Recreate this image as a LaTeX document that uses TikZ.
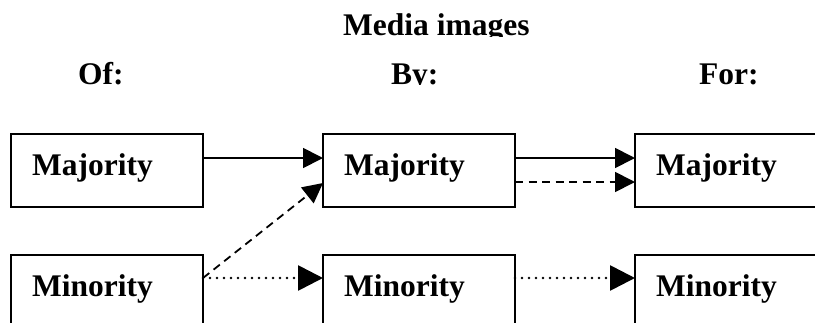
\documentclass[tikz,border=0pt]{standalone}
\usepackage{fontspec}
\setmainfont{Liberation Serif}
\usetikzlibrary{arrows.meta}
\begin{document}
\begin{tikzpicture}[x=1pt,y=-1pt,
  txt/.style={font=\fontsize{31.5}{36}\selectfont\bfseries, inner sep=0pt, anchor=base west},
  groupbox/.style={draw, line width=2pt, rectangle, inner sep=0pt, outer sep=0pt,
    minimum width=192pt, minimum height=73pt},
  link/.style={line width=1.8pt, -{Triangle[length=20pt,width=20pt]}},
  dashlink/.style={link, dash pattern=on 8pt off 5.5pt},
  dotlink/.style={line width=2.7pt, line cap=round, dash pattern=on 0pt off 7pt,
    -{Triangle[length=25pt,width=25pt,line cap=butt]}}]
\useasboundingbox (0,0) rectangle (815,322);
\clip (0,0) rectangle (815,322);

% headings (the text frames cut off the descenders)
\begin{scope}
  \clip (0,0) rectangle (815,36.5);
  \node[txt] (title) at (343,35) {Media images};
\end{scope}
\begin{scope}
  \clip (0,0) rectangle (815,84.5);
  \node[txt] (hof) at (78,84) {Of:};
  \node[txt] (hby) at (391,84) {By:};
  \node[txt] (hfor) at (699,84) {For:};
\end{scope}

% boxes
\node[groupbox] (maj1) at (107,170.5) {};
\node[groupbox] (maj2) at (419,170.5) {};
\node[groupbox] (maj3) at (731,170.5) {};
\node[groupbox] (min1) at (107,291.5) {};
\node[groupbox] (min2) at (419,291.5) {};
\node[groupbox] (min3) at (731,291.5) {};

% box labels
\foreach \b/\t in {maj1/Majority, maj2/Majority, maj3/Majority,
                   min1/Minority, min2/Minority, min3/Minority}
  \node[txt] (\b-label) at ([xshift=21pt,yshift=-41pt]\b.north west) {\t};

% connectors
\draw[link] ([yshift=12.5pt]maj1.east) -- ([yshift=12.5pt]maj2.west);
\draw[link] ([yshift=12.5pt]maj2.east) -- ([yshift=12.5pt]maj3.west);
\draw[dashlink] ([yshift=-11.5pt]maj2.east) -- ([yshift=-11.5pt]maj3.west);
\draw[dashlink] ([yshift=13.5pt]min1.east) -- ([yshift=-12.5pt]maj2.west);
\draw[dotlink] ([yshift=13.5pt]min1.east) -- ([yshift=13.5pt]min2.west);
\draw[dotlink] ([yshift=13.5pt]min2.east) -- ([yshift=13.5pt]min3.west);
\end{tikzpicture}
\end{document}
